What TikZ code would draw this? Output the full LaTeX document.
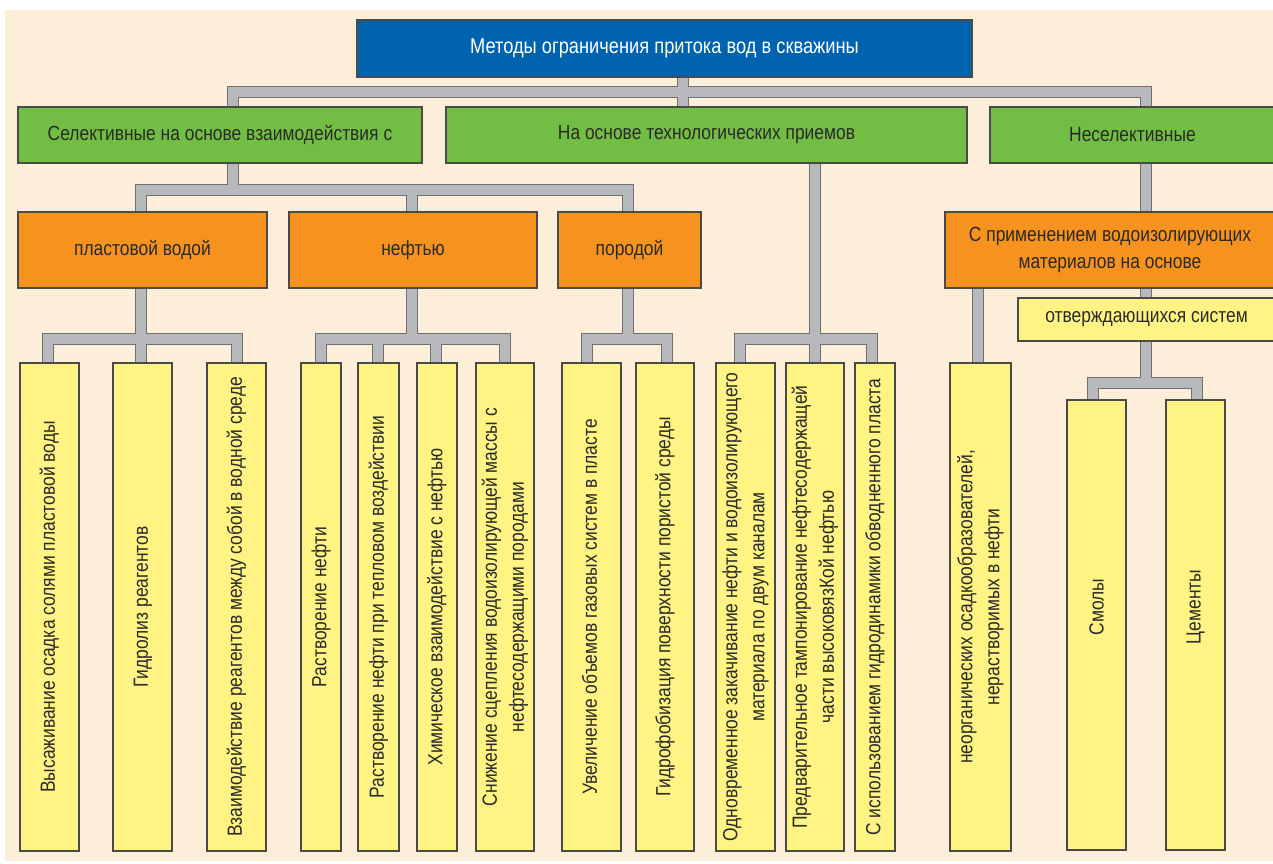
\documentclass[tikz,border=0pt]{standalone}
\usepackage{fontspec}
\setmainfont{Liberation Sans}[FakeStretch=0.85]
\usetikzlibrary{calc}
\pgfdeclarelayer{pipes}
\pgfsetlayers{pipes,main}

\definecolor{pagebg}{HTML}{FDEEDA}
\definecolor{topblue}{HTML}{0063AF}
\definecolor{leafgreen}{HTML}{72BE44}
\definecolor{boxorange}{HTML}{F6921E}
\definecolor{paleyellow}{HTML}{FFF483}
\definecolor{pipelight}{HTML}{B8B9BC}
\definecolor{pipedark}{HTML}{6F7073}
\definecolor{edgegray}{HTML}{4A4A48}
\definecolor{inkgray}{HTML}{2A2A28}

\tikzset{
  box/.style={draw=edgegray, line width=1.1pt, inner sep=0pt, align=center,
              text=inkgray, font=\fontsize{20.5}{27}\selectfont},
  bluebox/.style={box, fill=topblue, text=white, font=\fontsize{21.5}{27}\selectfont},
  greenbox/.style={box, fill=leafgreen},
  orangebox/.style={box, fill=boxorange},
  yellowbox/.style={box, fill=paleyellow},
}

\newcommand{\vtext}[1]{\rotatebox{90}{\begin{tabular}{@{}c@{}}#1\end{tabular}}}

\begin{document}
\begin{tikzpicture}[x=1pt,y=-1pt]
\useasboundingbox (0,0) rectangle (1273,863);

\begin{pgfonlayer}{pipes}
  \fill[pagebg] (5,10) rectangle (1273,861);
\end{pgfonlayer}

% root
\node[bluebox, minimum width=615, minimum height=57] (top) at (664.5,48.5)
  {Методы ограничения притока вод в скважины};

% first level
\node[greenbox, minimum width=404, minimum height=56] (g1) at (220,135)
  {Селективные на основе взаимодействия с};
\node[greenbox, minimum width=521, minimum height=56] (g2) at (706.5,135)
  {На основе технологических приемов};
\node[greenbox, minimum width=285, minimum height=56] (g3) at (1132.5,135)
  {Неселективные};

% second level
\node[orangebox, minimum width=249, minimum height=76] (o1) at (142.5,250) {пластовой водой};
\node[orangebox, minimum width=248, minimum height=76] (o2) at (413,250) {нефтью};
\node[orangebox, minimum width=143, minimum height=76] (o3) at (629.5,250) {породой};
\node[orangebox, minimum width=330, minimum height=76] (o4) at (1110,250)
  {С применением водоизолирующих\\материалов на основе};
\node[yellowbox, minimum width=257, minimum height=43] (sys) at (1146.5,319.5)
  {отверждающихся систем};

% leaves
\node[yellowbox, minimum width=59, minimum height=488] (b1) at (49.5,607)
  {\vtext{Высаживание осадка солями пластовой воды}};
\node[yellowbox, minimum width=59, minimum height=488] (b2) at (142.5,607)
  {\vtext{Гидролиз реагентов}};
\node[yellowbox, minimum width=59, minimum height=488] (b3) at (236.5,607)
  {\vtext{Взаимодействие реагентов между собой в водной среде}};
\node[yellowbox, minimum width=40, minimum height=488] (b4) at (321,607)
  {\vtext{Растворение нефти}};
\node[yellowbox, minimum width=41, minimum height=488] (b5) at (378.5,607)
  {\vtext{Растворение нефти при тепловом воздействии}};
\node[yellowbox, minimum width=40, minimum height=488] (b6) at (437,607)
  {\vtext{Химическое взаимодействие с нефтью}};
\node[yellowbox, minimum width=58, minimum height=488] (b7) at (505,607)
  {\vtext{Снижение сцепления водоизолирующей массы с\\нефтесодержащими породами}};
\node[yellowbox, minimum width=59, minimum height=488] (b8) at (591.5,607)
  {\vtext{Увеличение объемов газовых систем в пласте}};
\node[yellowbox, minimum width=58, minimum height=488] (b9) at (665,607)
  {\vtext{Гидрофобизация поверхности пористой среды}};
\node[yellowbox, minimum width=59, minimum height=488] (b10) at (745.5,607)
  {\vtext{Одновременное закачивание нефти и водоизолирующего\\материала по двум каналам}};
\node[yellowbox, minimum width=58, minimum height=488] (b11) at (815,607)
  {\vtext{Предварительное тампонирование нефтесодержащей\\части высоковязКой нефтью}};
\node[yellowbox, minimum width=40, minimum height=488] (b12) at (875,607)
  {\vtext{С использованием гидродинамики обводненного пласта}};
\node[yellowbox, minimum width=61, minimum height=488] (b13) at (980.5,607)
  {\vtext{неорганических осадкообразователей,\\нерастворимых в нефти}};
\node[yellowbox, minimum width=59, minimum height=450] (smoly) at (1096.5,625)
  {\rotatebox{90}{\hspace*{36pt}Смолы}};
\node[yellowbox, minimum width=59, minimum height=450] (cem) at (1195.5,625)
  {\rotatebox{90}{\hspace*{36pt}Цементы}};

% pipe network: dark rim first, light core on top
\begin{pgfonlayer}{pipes}
\foreach \w/\c in {12.5/pipedark, 9.5/pipelight}{
  \draw[line width=\w pt, color=\c, line join=miter]
    (top.south -| 683,0) -- (g2.north -| 683,0)
    (g1.north -| 233,0) -- (233,92) -- (1146,92) -- (g3.north -| 1146,0)
    (g1.south -| 233,0) -- (233,190)
    (o1.north -| 141,0) -- (141,190) -- (628,190) -- (o3.north -| 628,0)
    (412,190) -- (o2.north -| 412,0)
    (o1.south -| 141,0) -- (141,339)
    (b1.north -| 48,0) -- (48,339) -- (237,339) -- (b3.north -| 237,0)
    (141,339) -- (b2.north -| 141,0)
    (o2.south -| 412,0) -- (412,339)
    (b4.north -| 321,0) -- (321,339) -- (505,339) -- (b7.north -| 505,0)
    (378,339) -- (b5.north -| 378,0)
    (436,339) -- (b6.north -| 436,0)
    (o3.south -| 628,0) -- (628,339)
    (b8.north -| 587,0) -- (587,339) -- (667,339) -- (b9.north -| 667,0)
    (g2.south -| 815,0) -- (b11.north -| 815,0)
    (b10.north -| 740,0) -- (740,339) -- (872,339) -- (b12.north -| 872,0)
    (g3.south -| 1146,0) -- (o4.north -| 1146,0)
    (o4.south -| 978,0) -- (b13.north -| 978,0)
    (o4.south -| 1146,0) -- (sys.north -| 1146,0)
    (sys.south -| 1146,0) -- (1146,383)
    (smoly.north -| 1093,0) -- (1093,383) -- (1197,383) -- (cem.north -| 1197,0);
}
\end{pgfonlayer}
\end{tikzpicture}
\end{document}
